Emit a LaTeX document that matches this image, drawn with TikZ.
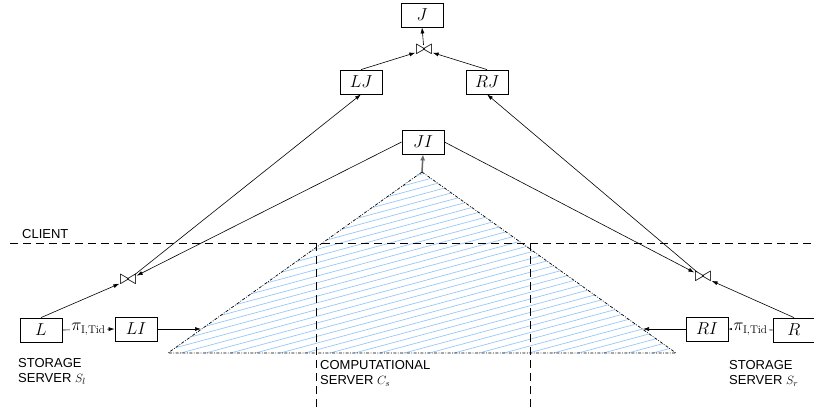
\documentclass[tikz,border=0pt]{standalone}
\usepackage{fontspec}
\setsansfont{Liberation Sans}
\usetikzlibrary{arrows.meta}
\definecolor{hatchblue}{RGB}{150,200,250}
\begin{document}
\begin{tikzpicture}[x=1pt,y=-1pt,
  box/.style={draw,line width=0.8pt,minimum width=42pt,minimum height=24pt,inner sep=0pt,font=\fontsize{16}{16}\selectfont},
  lbl/.style={font=\sffamily\fontsize{13}{15.5}\selectfont,align=left,anchor=north west,inner sep=0pt},
  arr/.style={-{Latex[length=6pt,width=4pt]},line width=0.6pt},
  jn/.style={inner sep=0pt,font=\fontsize{21}{21}\selectfont},
  pilbl/.style={fill=white,inner sep=1pt,font=\fontsize{16}{16}\selectfont},
  hatch/.style={draw=hatchblue,line width=0.7pt},
  dashline/.style={dash pattern=on 8pt off 5pt,line width=0.7pt},
  tri/.style={dash pattern=on 3pt off 1.5pt on 0.8pt off 1.5pt,line width=0.7pt}]
\useasboundingbox (0,0) rectangle (814,407);

% triangle
\coordinate (apex) at (422,172);
\coordinate (tl) at (168,353);
\coordinate (tr) at (676,353);
\coordinate (el) at (201,329);
\coordinate (er) at (643,329);
\begin{scope}
  \clip (apex) -- (tr) -- (tl) -- cycle;
  \foreach \k in {0,...,50} {
    \draw[hatch] (140,{230+\k*6.7}) -- (700,{230+\k*6.7-151});
  }
\end{scope}
\draw[tri] (apex) -- (tr) -- (tl) -- cycle;

% region lines
\draw[dashline] (10,243) -- (814,243);
\draw[dashline] (316,243) -- (316,407);
\draw[dashline] (530,243) -- (530,407);

% nodes
\node[box] (J) at (422,15) {$J$};
\node[jn] (jt) at (424,50) {$\bowtie$};
\node[box] (LJ) at (361,82) {$LJ$};
\node[box] (RJ) at (487,82) {$RJ$};
\node[box] (JI) at (423,142) {$JI$};
\node[jn] (jl) at (128,280) {$\bowtie$};
\node[jn] (jr) at (703,277) {$\bowtie$};
\node[box] (L) at (41,330) {$L$};
\node[box] (LI) at (136,329) {$LI$};
\node[box] (RI) at (707,329) {$RI$};
\node[box] (R) at (794,330) {$R$};

% labels
\node[lbl] (client) at (22,229) {CLIENT};
\node[lbl] (ssl) at (18,358) {STORAGE\\SERVER $S_l$};
\node[lbl] (ssr) at (729,360) {STORAGE\\SERVER $S_r$};
\node[lbl] (cs) at (320,360) {COMPUTATIONAL\\SERVER $C_s$};

% connectors
\draw[arr] (jt) -- (J.south);
\draw[arr] (LJ.north) -- (jt);
\draw[arr] (RJ.north) -- (jt);
\draw[arr] (jl) -- (LJ.south);
\draw[arr] (jr) -- (RJ.south);
\draw[arr] (JI.west) -- (jl);
\draw[arr] (JI.east) -- (jr);
\draw[arr] (L.north) -- (jl);
\draw[arr] (R.north) -- (jr);
\draw[arr] (L.east) -- node[pilbl] (pil) {$\pi_{\mathrm{I,Tid}}$} (LI.west);
\draw[arr] (R.west) -- node[pilbl] (pir) {$\pi_{\mathrm{I,Tid}}$} (RI.east);
\draw[arr] (LI.east) -- (el);
\draw[arr] (RI.west) -- (er);
\draw[-{Latex[length=6pt,width=5pt]},draw=gray!80!black,fill=gray!80!black,line width=1.5pt] (apex) -- (JI.south);
\end{tikzpicture}
\end{document}
